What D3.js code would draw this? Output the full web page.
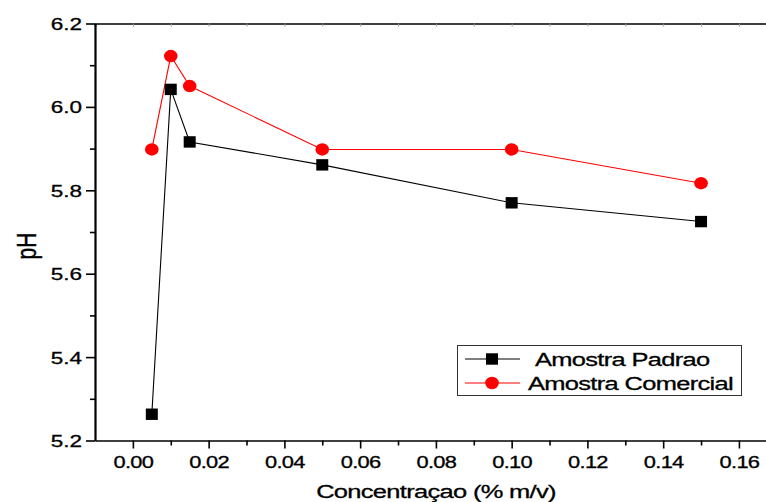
<!DOCTYPE html>
<html>
<head>
<meta charset="utf-8">
<script src="https://cdn.jsdelivr.net/npm/d3@7"></script>
<style>
    body { margin: 0; background: #fff; }
    svg { display: block; }
    text { font-family: "Liberation Sans", Arial, sans-serif; fill: #000; stroke: #000; stroke-width: 0.3px; }
</style>
</head>
<body>
<div id="chart"></div>
<script>
// values
var concentracao = [0.005, 0.01, 0.015, 0.05, 0.10, 0.15];
var padraoPH = [5.263, 6.042, 5.916, 5.861, 5.770, 5.725];
var comercialPH = [5.898, 6.122, 6.050, 5.898, 5.898, 5.817];
var seriesNames = ["Amostra Padrao", "Amostra Comercial"];
var seriesColors = ["#000000", "#ff0000"];
var xMajorTicks = [0.00, 0.02, 0.04, 0.06, 0.08, 0.10, 0.12, 0.14, 0.16];
var xMinorTicks = [0.01, 0.03, 0.05, 0.07, 0.09, 0.11, 0.13, 0.15];
var yMajorTicks = [5.2, 5.4, 5.6, 5.8, 6.0, 6.2];
var yMinorTicks = [5.3, 5.5, 5.7, 5.9, 6.1];

(function (window, undefined) {

    var width = 766, height = 502;
    //text in the reference is stretched sideways and set tight
    var stretch = 1.34;
    var tight = "-0.5px";

    var svg = d3.select("#chart").append("svg")
        .attr("width", width)
        .attr("height", height);

    //plot area runs past the right edge of the picture
    var x = d3.scaleLinear().domain([-0.01, 0.17]).range([95, 776.8]);
    var y = d3.scaleLinear().domain([5.2, 6.2]).range([440.5, 23.5]);

    //top frame line with tiny inner ticks
    svg.append("g")
        .attr("transform", "translate(0," + y(6.2) + ")")
        .call(d3.axisTop(x).tickValues(xMajorTicks.concat(xMinorTicks)).tickSize(-3).tickFormat(""))
        .call(function (g) {
            g.select(".domain").style("stroke", "#000").style("stroke-width", 1.6);
            g.selectAll(".tick line").style("stroke", "#999");
        });

    //bottom axis, major ticks
    var xAxis = svg.append("g")
        .attr("transform", "translate(0," + y(5.2) + ")")
        .call(d3.axisBottom(x).tickValues(xMajorTicks).tickSizeInner(8).tickSizeOuter(0)
            .tickFormat(d3.format(".2f")));
    xAxis.select(".domain").style("stroke-width", 1.6);
    xAxis.selectAll(".tick line").style("stroke-width", 1.6);
    xAxis.selectAll(".tick text")
        .attr("y", 27.5)
        .attr("dy", null)
        .attr("transform", "scale(" + stretch + ",1)")
        .style("letter-spacing", tight)
        .style("font-size", "16.3px");

    //bottom axis, minor ticks
    svg.append("g")
        .attr("transform", "translate(0," + y(5.2) + ")")
        .call(d3.axisBottom(x).tickValues(xMinorTicks).tickSize(5).tickFormat(""))
        .call(function (g) {
            g.select(".domain").remove();
            g.selectAll(".tick line").style("stroke-width", 1.6);
        });

    //left axis, major ticks
    var yAxis = svg.append("g")
        .attr("transform", "translate(" + x(-0.01) + ",0)")
        .call(d3.axisLeft(y).tickValues(yMajorTicks).tickSizeInner(9).tickSizeOuter(0)
            .tickFormat(d3.format(".1f")));
    yAxis.select(".domain").style("stroke-width", 2.2);
    yAxis.selectAll(".tick line").style("stroke-width", 1.6);
    yAxis.selectAll(".tick text")
        .attr("x", -13 / stretch)
        .attr("dy", "0.36em")
        .attr("transform", "scale(" + stretch + ",1)")
        .style("font-size", "16.8px");

    //left axis, minor ticks
    svg.append("g")
        .attr("transform", "translate(" + x(-0.01) + ",0)")
        .call(d3.axisLeft(y).tickValues(yMinorTicks).tickSize(5).tickFormat(""))
        .call(function (g) {
            g.select(".domain").remove();
            g.selectAll(".tick line").style("stroke-width", 1.6);
        });

    //axis titles
    svg.append("text")
        .attr("transform", "translate(436,498) scale(" + stretch + ",1)")
        .style("text-anchor", "middle")
        .style("letter-spacing", tight)
        .style("font-size", "19px")
        .text("Concentraçao (% m/v)");

    svg.append("text")
        .attr("transform", "translate(36,246) scale(" + stretch + ",1) rotate(-90)")
        .style("text-anchor", "middle")
        .style("font-size", "21px")
        .text("pH");

    var series = [padraoPH, comercialPH].map(function (vals, i) {
        return {
            name: seriesNames[i],
            color: seriesColors[i],
            points: vals.map(function (v, j) { return { x: concentracao[j], y: v }; })
        };
    });

    var line = d3.line()
        .x(function (d) { return x(d.x); })
        .y(function (d) { return y(d.y); });

    //connecting lines
    svg.selectAll(".seriesLine")
        .data(series)
        .enter().append("path")
        .attr("class", "seriesLine")
        .attr("d", function (d) { return line(d.points); })
        .style("fill", "none")
        .style("stroke", function (d) { return d.color; })
        .style("stroke-width", 1.1);

    //square markers
    svg.selectAll(".padraoMark")
        .data(series[0].points)
        .enter().append("rect")
        .attr("class", "padraoMark")
        .attr("x", function (d) { return x(d.x) - 6; })
        .attr("y", function (d) { return y(d.y) - 5.7; })
        .attr("width", 12)
        .attr("height", 11.4)
        .style("fill", "#000");

    //circle markers
    svg.selectAll(".comercialMark")
        .data(series[1].points)
        .enter().append("ellipse")
        .attr("class", "comercialMark")
        .attr("cx", function (d) { return x(d.x); })
        .attr("cy", function (d) { return y(d.y); })
        .attr("rx", 6.8)
        .attr("ry", 6.2)
        .style("fill", "#ff0000");

    //legend
    var legend = svg.append("g").attr("class", "legend");
    legend.append("rect")
        .attr("x", 457.5)
        .attr("y", 345.5)
        .attr("width", 284)
        .attr("height", 50)
        .style("fill", "#fff")
        .style("stroke", "#333")
        .style("stroke-width", 1);

    var rowY = [359, 383];
    var textX = [535, 528];
    var items = legend.selectAll(".legendItem")
        .data(series)
        .enter().append("g")
        .attr("class", "legendItem");

    items.append("line")
        .attr("x1", 465)
        .attr("x2", 520)
        .attr("y1", function (d, i) { return rowY[i]; })
        .attr("y2", function (d, i) { return rowY[i]; })
        .style("stroke", function (d) { return d.color; })
        .style("stroke-width", 1.1);

    items.filter(function (d, i) { return i == 0; }).append("rect")
        .attr("x", 486)
        .attr("y", rowY[0] - 5.7)
        .attr("width", 12)
        .attr("height", 11.4)
        .style("fill", "#000");

    items.filter(function (d, i) { return i == 1; }).append("ellipse")
        .attr("cx", 492)
        .attr("cy", rowY[1])
        .attr("rx", 6.8)
        .attr("ry", 6.2)
        .style("fill", "#ff0000");

    items.append("text")
        .attr("transform", function (d, i) {
            return "translate(" + textX[i] + "," + (rowY[i] + 6.5) + ") scale(" + stretch + ",1)";
        })
        .style("letter-spacing", tight)
        .style("font-size", "19px")
        .text(function (d) { return d.name; });

})(window)
</script>
</body>
</html>
